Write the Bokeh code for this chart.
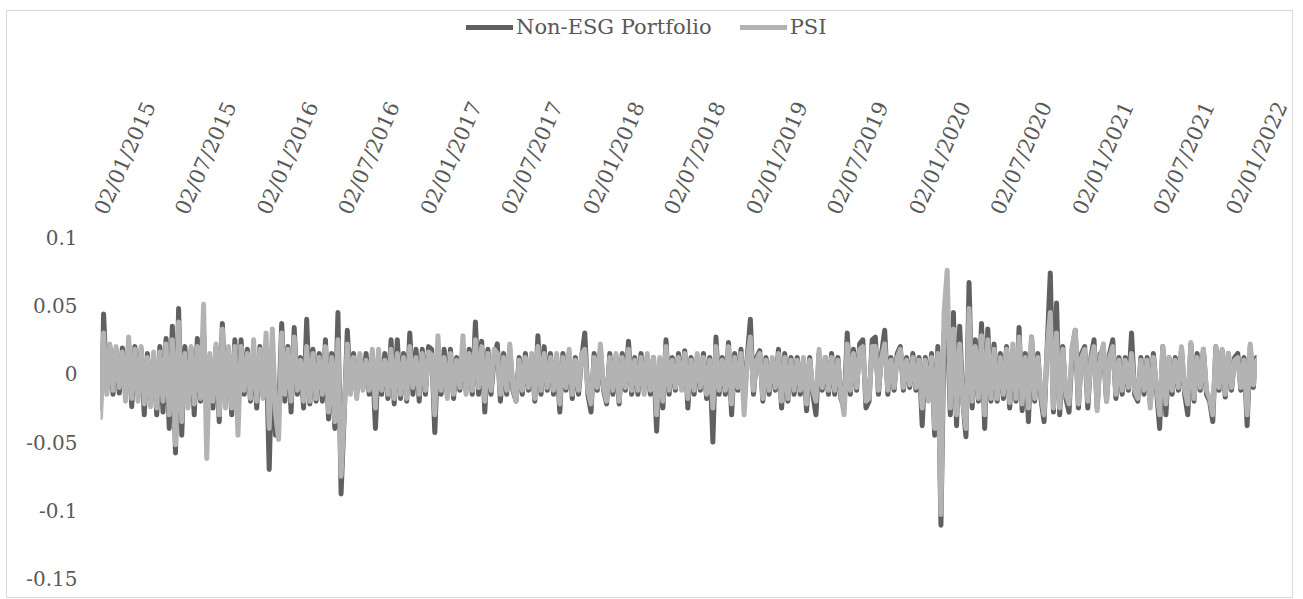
import pandas as pd
from math import radians
from bokeh.plotting import figure
from bokeh.layouts import column
from bokeh.models import (Range1d, FixedTicker, DatetimeTickFormatter, Legend,
                          LegendItem, ColumnDataSource)
from bokeh.embed import file_html
from bokeh.resources import INLINE

# ---------------- data (weekly samples) ----------------
series_names = ["Non-ESG Portfolio", "PSI"]
start_date = "2015-01-02"
step = "7D"

non_esg = [
    -0.025, 0.044, -0.012, 0.02, -0.015, 0.018, -0.014, 0.019, -0.012, 0.022, -0.024, 0.02, -0.016,
    0.018, -0.03, 0.015, -0.02, 0.012, -0.03, 0.02, -0.028, 0.026, -0.04, 0.035, -0.058, 0.048,
    -0.045, 0.02, -0.02, 0.018, -0.03, 0.026, -0.02, 0.03, -0.02, 0.012, -0.025, 0.02, -0.035,
    0.037, -0.02, 0.015, -0.03, 0.025, -0.03, 0.025, -0.015, 0.018, -0.02, 0.015, -0.025, 0.02,
    -0.015, 0.022, -0.07, 0.02, -0.045, -0.03, 0.037, -0.02, 0.02, -0.028, 0.034, -0.015, 0.012,
    -0.025, 0.04, -0.022, 0.018, -0.02, 0.015, -0.02, 0.025, -0.033, 0.015, -0.04, 0.045, -0.088,
    -0.03, 0.032, -0.012, 0.015, -0.015, 0.012, -0.01, 0.015, -0.015, 0.01, -0.04, 0.012, -0.015,
    0.015, -0.018, 0.025, -0.022, 0.025, -0.018, 0.015, -0.02, 0.03, -0.015, 0.018, -0.02, 0.018,
    -0.015, 0.02, 0.018, -0.043, 0.015, -0.015, 0.018, -0.015, 0.018, -0.018, 0.012, -0.012, 0.015,
    -0.012, 0.018, -0.015, 0.038, -0.015, 0.024, -0.028, 0.018, -0.015, 0.012, 0.022, -0.02, 0.015,
    -0.015, 0.018, -0.012, -0.02, 0.012, -0.015, 0.015, -0.012, 0.012, -0.02, 0.028, -0.015, 0.02,
    -0.012, 0.015, -0.015, 0.012, -0.028, 0.015, -0.012, 0.015, -0.018, 0.012, -0.015, 0.012, 0.03,
    -0.015, -0.028, 0.015, -0.012, 0.018, -0.012, -0.022, 0.015, -0.015, 0.012, -0.022, 0.015, -0.012,
    0.024, -0.015, 0.012, -0.015, 0.015, -0.012, 0.012, -0.015, 0.012, -0.042, 0.01, -0.025, 0.025,
    -0.015, 0.012, -0.012, 0.015, -0.01, 0.017, -0.025, 0.012, -0.015, 0.012, -0.012, 0.015, -0.018,
    0.012, -0.05, 0.027, -0.015, 0.012, -0.015, 0.023, -0.03, 0.015, -0.012, 0.018, -0.022, 0.012,
    0.04, -0.015, 0.012, 0.017, -0.02, 0.012, -0.015, 0.01, -0.012, 0.018, -0.025, 0.015, -0.02,
    0.012, -0.015, 0.012, -0.015, 0.01, -0.027, 0.012, -0.015, -0.03, 0.015, -0.012, 0.012, -0.015,
    0.015, -0.015, 0.012, -0.018, -0.025, 0.03, -0.015, 0.018, -0.012, 0.022, 0.025, -0.025, -0.02,
    0.025, 0.027, -0.015, 0.015, 0.032, -0.015, 0.012, -0.012, 0.015, 0.02, -0.012, 0.012, -0.01,
    0.015, -0.012, 0.012, -0.038, 0.012, -0.015, 0.015, -0.045, 0.02, -0.111, 0.03, 0.04, -0.03,
    0.045, -0.038, 0.035, -0.02, -0.046, 0.067, -0.025, 0.025, -0.02, 0.037, -0.04, 0.033, -0.02,
    0.022, -0.02, 0.015, -0.018, 0.02, -0.025, 0.015, -0.02, 0.034, -0.027, 0.015, -0.035, 0.027,
    -0.02, 0.015, -0.018, -0.035, 0.02, 0.074, -0.028, 0.052, -0.03, 0.02, -0.018, -0.028, 0.018,
    0.032, -0.025, 0.015, 0.02, -0.025, 0.012, 0.025, -0.025, 0.015, 0.018, -0.02, 0.015, 0.025,
    -0.018, 0.012, -0.015, 0.012, -0.012, 0.03, -0.015, -0.02, 0.012, -0.015, 0.012, -0.022, 0.015,
    -0.012, -0.04, 0.02, -0.03, 0.012, -0.015, 0.012, -0.012, 0.018, -0.015, -0.03, 0.022, -0.02,
    0.015, -0.012, 0.018, -0.015, -0.02, -0.035, 0.02, -0.012, 0.017, -0.017, 0.015, -0.012, 0.012,
    0.015, -0.012, 0.012, -0.038, 0.02, -0.01, 0.012,
]

psi = [
    -0.032, 0.03, -0.015, 0.022, -0.012, 0.02, -0.01, 0.016, -0.02, 0.027, -0.018, 0.018, -0.02,
    0.02, -0.022, 0.012, -0.024, 0.016, -0.025, 0.016, -0.02, 0.022, -0.03, 0.025, -0.052, 0.038,
    -0.035, 0.015, -0.025, 0.02, -0.022, 0.02, -0.018, 0.051, -0.062, 0.015, -0.02, 0.022, -0.03,
    0.033, -0.025, 0.02, -0.025, 0.02, -0.045, 0.02, -0.012, 0.015, -0.018, 0.025, -0.02, 0.018,
    -0.018, 0.03, -0.04, 0.033, -0.028, -0.048, 0.03, -0.015, 0.018, -0.02, 0.027, -0.012, 0.01,
    -0.02, 0.02, -0.02, 0.015, -0.018, 0.012, -0.015, 0.02, -0.028, 0.012, -0.035, 0.025, -0.075,
    -0.028, 0.022, -0.015, 0.012, -0.018, 0.015, -0.012, 0.01, -0.012, 0.018, -0.025, 0.018, -0.012,
    0.01, -0.015, 0.018, -0.018, 0.015, -0.015, 0.012, -0.018, 0.02, -0.01, 0.012, -0.015, 0.015,
    -0.012, 0.016, 0.014, -0.03, 0.028, -0.012, 0.012, -0.018, 0.015, -0.015, 0.01, -0.01, 0.028,
    -0.015, 0.015, -0.012, 0.025, -0.01, 0.02, -0.02, 0.015, -0.012, 0.018, 0.015, -0.015, 0.012,
    -0.012, 0.022, -0.01, -0.02, 0.01, -0.012, 0.012, -0.01, 0.015, -0.018, 0.02, -0.012, 0.015,
    -0.01, 0.012, -0.012, 0.015, -0.022, 0.012, -0.01, 0.018, -0.015, 0.01, -0.012, 0.015, 0.018,
    -0.012, -0.022, 0.012, -0.01, 0.022, -0.01, -0.02, 0.012, -0.012, 0.015, -0.02, 0.012, -0.01,
    0.018, -0.012, 0.01, -0.012, 0.012, -0.015, 0.015, -0.012, 0.012, -0.03, 0.012, -0.02, 0.02,
    -0.012, 0.01, -0.01, 0.012, -0.012, 0.015, -0.018, 0.01, -0.012, 0.015, -0.01, 0.012, -0.015,
    0.01, -0.025, 0.02, -0.012, 0.01, -0.012, 0.02, -0.022, 0.012, -0.01, 0.015, -0.03, 0.01,
    0.027, -0.012, 0.01, 0.015, -0.018, 0.01, -0.012, 0.012, -0.01, 0.015, -0.02, 0.012, -0.018,
    0.01, -0.012, 0.01, -0.012, 0.012, -0.022, 0.01, -0.012, -0.02, 0.018, -0.01, 0.012, -0.012,
    0.012, -0.012, 0.01, -0.015, -0.03, 0.022, -0.012, 0.015, -0.01, 0.018, 0.02, -0.02, -0.018,
    0.02, 0.02, -0.012, 0.012, 0.022, -0.012, 0.01, -0.01, 0.012, 0.018, -0.01, 0.01, -0.008,
    0.012, -0.01, 0.01, -0.025, 0.01, -0.02, 0.012, -0.04, 0.015, -0.103, 0.045, 0.076, -0.025,
    0.033, -0.03, 0.022, -0.02, -0.04, 0.048, -0.02, 0.02, -0.018, 0.028, -0.03, 0.025, -0.018,
    0.018, -0.018, 0.012, -0.015, 0.018, -0.021, 0.022, -0.018, 0.027, -0.022, 0.012, -0.025, 0.027,
    -0.018, 0.012, -0.015, -0.03, 0.018, 0.045, -0.025, 0.03, -0.025, 0.018, -0.015, -0.022, 0.02,
    0.032, -0.022, 0.012, 0.018, -0.02, 0.01, 0.02, -0.027, 0.012, 0.022, -0.02, 0.012, 0.02,
    -0.015, 0.01, -0.012, 0.01, -0.01, 0.015, -0.012, -0.018, 0.01, -0.012, 0.01, -0.025, 0.012,
    -0.01, -0.03, 0.02, -0.022, 0.012, -0.012, 0.01, -0.01, 0.02, -0.012, -0.022, 0.023, -0.018,
    0.012, -0.01, 0.018, -0.012, -0.018, -0.03, 0.02, -0.01, 0.018, -0.015, 0.015, -0.01, 0.01,
    0.012, -0.01, 0.01, -0.03, 0.022, -0.008, 0.01,
]

x_tick_dates = ["2015-01-02", "2015-07-02", "2016-01-02", "2016-07-02", "2017-01-02",
                "2017-07-02", "2018-01-02", "2018-07-02", "2019-01-02", "2019-07-02",
                "2020-01-02", "2020-07-02", "2021-01-02", "2021-07-02", "2022-01-02"]
x_label_format = "%d/%m/%Y"
y_ticks = [-0.15, -0.1, -0.05, 0.0, 0.05, 0.1]
y_tick_labels = ["-0.15", "-0.1", "-0.05", "0", "0.05", "0.1"]

# ---------------- styling ----------------
FONT = "DejaVu Serif"
TXT = "#595959"
DARK = "#606060"
LIGHT = "#b3b3b3"
LINE_KW = dict(line_width=5, line_join="round", line_cap="round")
W = 1285

dates = pd.date_range(start_date, periods=len(non_esg), freq=step)
src = ColumnDataSource(data=dict(date=dates, non_esg=non_esg, psi=psi))
x_range = Range1d(dates[0], dates[-1])
y_range = Range1d(y_ticks[0], y_ticks[-1])

# ---------- main chart ----------
p = figure(width=W, height=546, x_axis_type="datetime", x_axis_location="above",
           x_range=x_range, y_range=y_range,
           output_backend="svg", toolbar_location=None,
           min_border_left=93, min_border_right=36, min_border_top=186, min_border_bottom=19)
p.outline_line_color = None
p.grid.visible = False

r1 = p.line("date", "non_esg", source=src, line_color=DARK, **LINE_KW)
r2 = p.line("date", "psi", source=src, line_color=LIGHT, **LINE_KW)

xa = p.xaxis[0]
xa.ticker = FixedTicker(ticks=[pd.Timestamp(d).value / 1e6 for d in x_tick_dates])
xa.formatter = DatetimeTickFormatter(
    milliseconds=x_label_format, seconds=x_label_format, minsec=x_label_format,
    minutes=x_label_format, hourmin=x_label_format, hours=x_label_format,
    days=x_label_format, months=x_label_format, years=x_label_format)
xa.axis_line_color = None
xa.major_tick_line_color = None
xa.minor_tick_line_color = None
xa.major_tick_out = 0
xa.major_label_orientation = radians(66)
xa.major_label_standoff = 24
xa.major_label_text_font = FONT
xa.major_label_text_font_size = "21px"
xa.major_label_text_color = TXT

ya = p.yaxis[0]
ya.ticker = FixedTicker(ticks=y_ticks)
ya.major_label_overrides = dict(zip(y_ticks, y_tick_labels))
ya.axis_line_color = None
ya.major_tick_line_color = None
ya.minor_tick_line_color = None
ya.major_tick_out = 0
ya.major_label_standoff = 23
ya.major_label_text_font = FONT
ya.major_label_text_font_size = "20px"
ya.major_label_text_color = TXT

# ---------- legend strip on top ----------
lf = figure(width=W, height=40, x_range=x_range, y_range=y_range,
            x_axis_location=None, y_axis_location=None,
            output_backend="svg", toolbar_location=None, min_border=0)
lf.grid.visible = False
lf.outline_line_color = None
lr1 = lf.line("date", "non_esg", source=src, line_color=DARK, visible=False, **LINE_KW)
lr2 = lf.line("date", "psi", source=src, line_color=LIGHT, visible=False, **LINE_KW)

legend = Legend(items=[LegendItem(label=series_names[0], renderers=[lr1]),
                       LegendItem(label=series_names[1], renderers=[lr2])],
                orientation="horizontal", location=(366, 12),
                border_line_color=None, background_fill_alpha=0,
                padding=0, margin=0, spacing=28, glyph_width=47, glyph_height=24,
                label_standoff=3, label_text_font=FONT, label_text_font_size="21px",
                label_text_color=TXT, label_height=24)
lf.add_layout(legend)

layout = column(lf, p, spacing=0, margin=(10, 0, 0, 6),
                styles={"border": "1px solid #d9d9d9"})

open("out.html", "w").write(file_html(layout, INLINE))
